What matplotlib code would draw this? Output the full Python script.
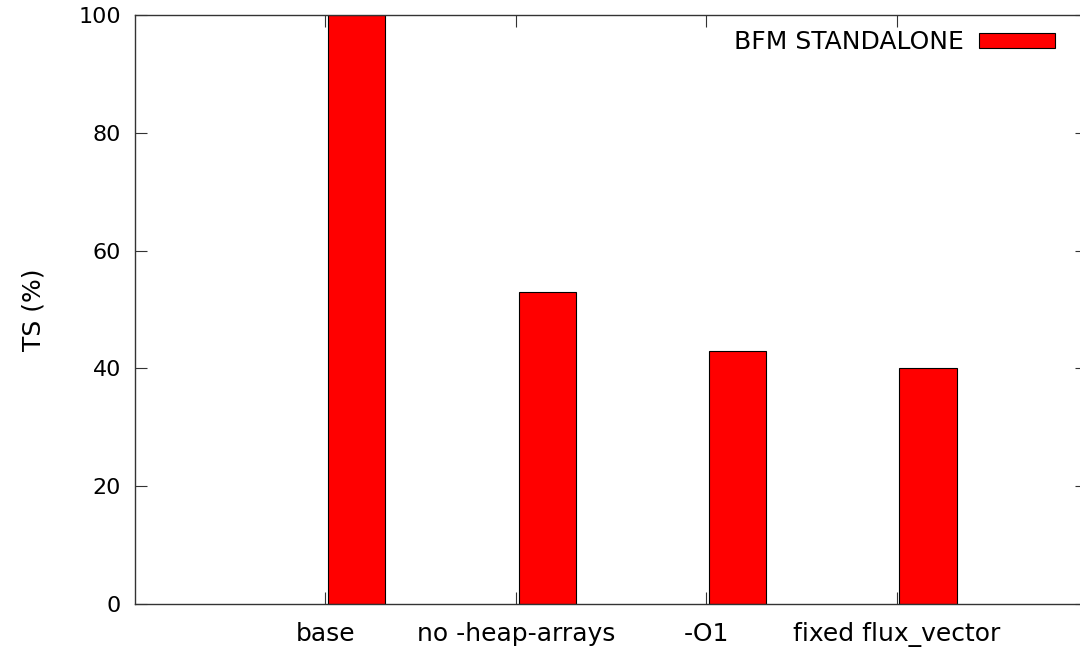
import matplotlib
matplotlib.use("Agg")
import matplotlib.pyplot as plt
import numpy as np

categories = ["base", "no -heap-arrays", "-O1", "fixed flux_vector"]
ts_percent = [100, 53, 43, 40]
series_name = "BFM STANDALONE"
y_ticks = [0, 20, 40, 60, 80, 100]

plt.rcParams["font.family"] = ["DejaVu Sans"]
FS_TEXT = 18
FS_NUM = 16

fig = plt.figure(figsize=(10.8, 6.49), dpi=100)
W, H = 1080, 649
left, right, top, bottom = 135, 1087, 15, 604
ax = fig.add_axes([left / W, (H - bottom) / H, (right - left) / W, (bottom - top) / H])

x = np.arange(len(categories))
ax.bar(x + 0.015, ts_percent, width=0.30, align="edge", color="#ff0000",
       edgecolor="black", linewidth=0.8, label=series_name)

ax.set_xlim(-1, 4)
ax.set_ylim(0, 100)
ax.set_xticks(x)
ax.set_xticklabels(categories, fontsize=FS_TEXT)
ax.set_yticks(y_ticks)
ax.set_yticklabels([str(v) for v in y_ticks], fontsize=FS_NUM)
ax.tick_params(axis="both", direction="in", length=8.5, width=0.8,
               top=True, right=True, color="#333333")
ax.tick_params(axis="x", pad=13)
ax.tick_params(axis="y", pad=10)
for s in ax.spines.values():
    s.set_linewidth(1.0)
    s.set_color("#333333")

ax.set_ylabel("TS (%)", fontsize=FS_TEXT, labelpad=24)

ax.legend(loc="upper right", bbox_to_anchor=(1055 / W, 1 - 30 / H),
          bbox_transform=fig.transFigure, frameon=False, markerfirst=False,
          fontsize=FS_TEXT, handlelength=3.05, handleheight=0.55, handletextpad=0.6,
          borderpad=0, borderaxespad=0)

fig.savefig("out.png", dpi=100)
